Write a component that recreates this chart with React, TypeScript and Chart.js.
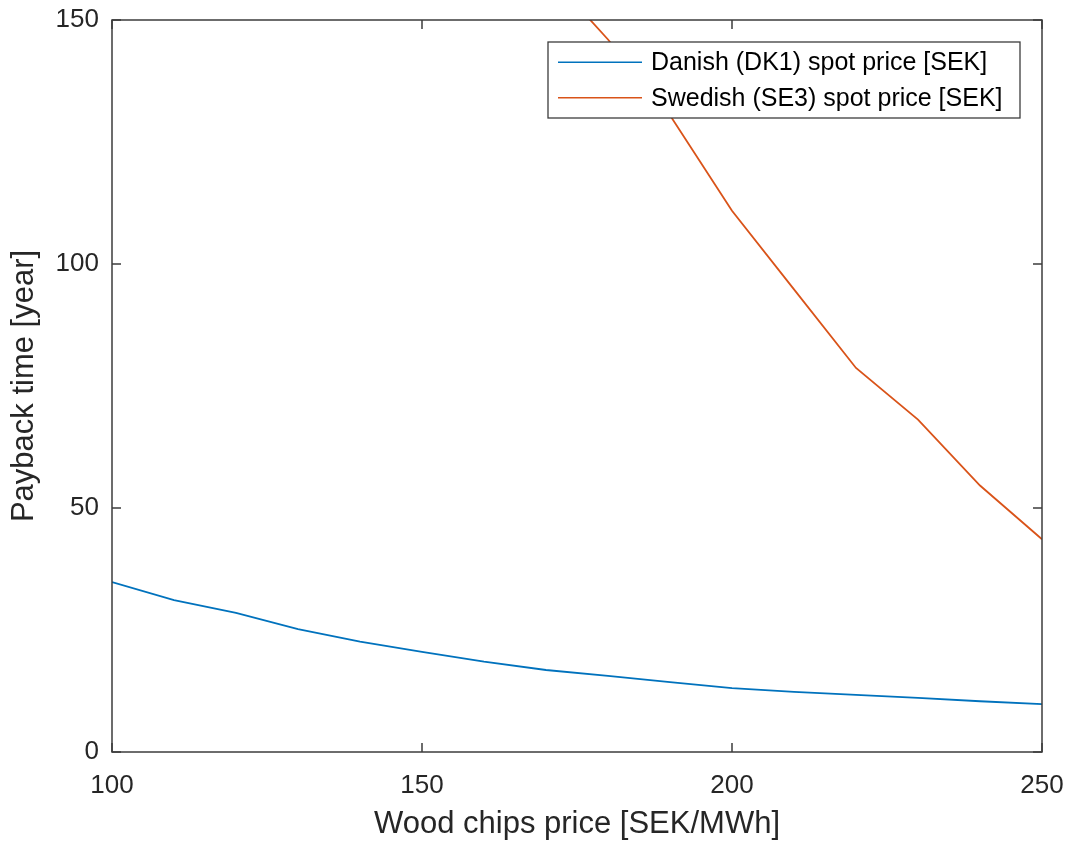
import React, { useEffect, useRef } from "react";
import { Chart, registerables } from "chart.js";

Chart.register(...registerables);

const woodChipsPrice = [100, 110, 120, 130, 140, 150, 160, 170, 180, 190, 200, 210, 220, 230, 240, 250];
const danishPayback = [34.8, 31.1, 28.5, 25.2, 22.6, 20.5, 18.5, 16.8, 15.6, 14.3, 13.1, 12.3, 11.7, 11.1, 10.4, 9.8];
const swedishPayback = [null, null, null, null, null, null, null, 160, 146, 130.5, 110.9, 94.8, 78.7, 68.1, 54.6, 43.6];
const xTicks = [100, 150, 200, 250];
const yTicks = [0, 50, 100, 150];
const seriesLabels = ["Danish (DK1) spot price [SEK]", "Swedish (SE3) spot price [SEK]"];
const seriesColors = ["#0072BD", "#D95319"];

const W = 1072;
const H = 841;
const FONT = "'Liberation Sans', Arial, Helvetica, sans-serif";
const TEXT = "#262626";

const framePlugin = {
  id: "matlabFrame",
  afterDatasetsDraw(chart: any) {
    const { ctx, chartArea, scales } = chart;
    const { left, right, top, bottom } = chartArea;
    ctx.save();
    ctx.strokeStyle = "#3c3c3c";
    ctx.lineWidth = 1.5;
    ctx.strokeRect(left, top, right - left, bottom - top);
    const tl = 9;
    ctx.beginPath();
    xTicks.forEach((v) => {
      const x = scales.x.getPixelForValue(v);
      ctx.moveTo(x, bottom);
      ctx.lineTo(x, bottom - tl);
      ctx.moveTo(x, top);
      ctx.lineTo(x, top + tl);
    });
    yTicks.forEach((v) => {
      const y = scales.y.getPixelForValue(v);
      ctx.moveTo(left, y);
      ctx.lineTo(left + tl, y);
      ctx.moveTo(right, y);
      ctx.lineTo(right - tl, y);
    });
    ctx.stroke();

    // legend
    const bx = 548, by = 42, bw = 472, bh = 76;
    ctx.fillStyle = "#ffffff";
    ctx.fillRect(bx, by, bw, bh);
    ctx.strokeStyle = "#3c3c3c";
    ctx.lineWidth = 1.3;
    ctx.strokeRect(bx, by, bw, bh);
    const rows = [62.3, 97.7];
    ctx.font = `25px ${FONT}`;
    ctx.textBaseline = "middle";
    ctx.textAlign = "left";
    rows.forEach((ry, i) => {
      ctx.strokeStyle = seriesColors[i];
      ctx.lineWidth = 1.6;
      ctx.beginPath();
      ctx.moveTo(558, ry);
      ctx.lineTo(642, ry);
      ctx.stroke();
      ctx.fillStyle = "#000000";
      ctx.fillText(seriesLabels[i], 651, ry + 1);
    });
    ctx.restore();
  },
};

const zeroPad = (s: any) => {
  s.paddingTop = 0;
  s.paddingBottom = 0;
  s.paddingLeft = 0;
  s.paddingRight = 0;
};

export default function App() {
  const ref = useRef<HTMLCanvasElement>(null);
  useEffect(() => {
    document.body.style.margin = "0";
    document.body.style.background = "#ffffff";
    const canvas = ref.current!;
    const chart = new Chart(canvas, {
      type: "line",
      data: {
        labels: woodChipsPrice,
        datasets: [
          {
            label: seriesLabels[0],
            data: woodChipsPrice.map((x, i) => ({ x, y: danishPayback[i] })),
            borderColor: seriesColors[0],
            borderWidth: 1.8,
            pointRadius: 0,
            tension: 0,
            fill: false,
          },
          {
            label: seriesLabels[1],
            data: woodChipsPrice.map((x, i) => ({ x, y: swedishPayback[i] })),
            borderColor: seriesColors[1],
            borderWidth: 1.8,
            pointRadius: 0,
            tension: 0,
            fill: false,
          },
        ],
      },
      options: {
        responsive: false,
        animation: false,
        devicePixelRatio: 1,
        layout: { padding: { top: 20, right: 30, left: 0, bottom: 0 } },
        plugins: { legend: { display: false }, tooltip: { enabled: false } },
        scales: {
          x: {
            type: "linear",
            min: 100,
            max: 250,
            afterBuildTicks: (s: any) => {
              s.ticks = xTicks.map((v) => ({ value: v }));
            },
            afterFit: (s: any) => {
              s.height = 89;
              zeroPad(s);
            },
            grid: { display: false, drawTicks: false },
            border: { display: false },
            ticks: {
              font: { family: FONT, size: 26 },
              color: TEXT,
              padding: 18,
              maxRotation: 0,
            },
            title: {
              display: true,
              text: "Wood chips price [SEK/MWh]",
              font: { family: FONT, size: 31, lineHeight: 1 },
              color: TEXT,
              padding: { top: 1, bottom: 1 },
            },
          },
          y: {
            type: "linear",
            min: 0,
            max: 150,
            afterBuildTicks: (s: any) => {
              s.ticks = yTicks.map((v) => ({ value: v }));
            },
            afterFit: (s: any) => {
              s.width = 112;
              zeroPad(s);
            },
            grid: { display: false, drawTicks: false },
            border: { display: false },
            ticks: {
              font: { family: FONT, size: 26 },
              color: TEXT,
              padding: 13,
            },
            title: {
              display: true,
              text: "Payback time [year]",
              font: { family: FONT, size: 31 },
              color: TEXT,
              padding: { top: 6, bottom: 6 },
            },
          },
        },
      },
      plugins: [framePlugin],
    } as any);
    return () => chart.destroy();
  }, []);
  return (
    <div style={{ width: W, height: H, background: "#fff" }}>
      <canvas ref={ref} width={W} height={H} style={{ display: "block", width: W, height: H }} />
    </div>
  );
}
